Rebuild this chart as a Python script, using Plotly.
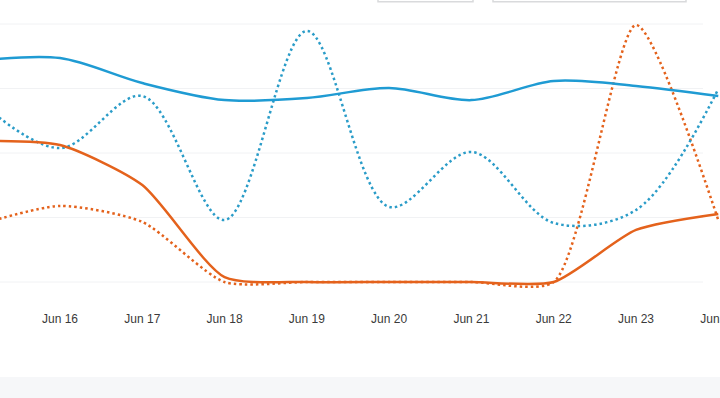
import plotly.graph_objects as go

dates = ["2024-06-15", "2024-06-16", "2024-06-17", "2024-06-18", "2024-06-19",
         "2024-06-20", "2024-06-21", "2024-06-22", "2024-06-23", "2024-06-24"]
tick_dates = dates[1:]
tick_labels = ["Jun 16", "Jun 17", "Jun 18", "Jun 19", "Jun 20", "Jun 21", "Jun 22", "Jun 23", "Jun 24"]

blue_solid = [85.7, 86.8, 77.1, 70.5, 71.3, 75.2, 70.5, 77.9, 76.0, 72.1]
blue_dotted = [70.5, 51.9, 72.1, 24.0, 97.3, 29.1, 50.4, 22.9, 27.9, 74.8]
orange_solid = [54.7, 53.1, 37.6, 1.9, 0, 0, 0, 0, 20.2, 26.4]
orange_dotted = [22.1, 29.5, 23.3, 0, 0, 0, 0, 0, 99.6, 24.0]
grid_vals = [0, 25, 50, 75, 100]

BLUE = "#1f9bd3"
BLUE_DOT = "#2a9cc8"
ORANGE = "#e4621c"

fig = go.Figure()
fig.add_trace(go.Scatter(x=dates, y=orange_dotted, mode="lines",
                         line=dict(color=ORANGE, width=2.5, dash="2.5px,3px", shape="spline", smoothing=0.65)))
fig.add_trace(go.Scatter(x=dates, y=blue_dotted, mode="lines",
                         line=dict(color=BLUE_DOT, width=2.5, dash="2.5px,3px", shape="spline", smoothing=0.95)))
fig.add_trace(go.Scatter(x=dates, y=orange_solid, mode="lines",
                         line=dict(color=ORANGE, width=2.5, shape="spline", smoothing=0.65)))
fig.add_trace(go.Scatter(x=dates, y=blue_solid, mode="lines",
                         line=dict(color=BLUE, width=2.5, shape="spline", smoothing=0.9)))

shapes = []
for v in grid_vals:
    shapes.append(dict(type="line", xref="paper", yref="y", x0=0, x1=703 / 720, y0=v, y1=v,
                       line=dict(color="#f1f2f4", width=1), layer="below"))
# UI chrome: buttons above and grey band below
shapes.append(dict(type="rect", xref="paper", yref="paper", x0=378 / 720, x1=473 / 720,
                   y0=1.068, y1=1.2, line=dict(color="#d9dadc", width=1.5), fillcolor="white"))
shapes.append(dict(type="rect", xref="paper", yref="paper", x0=493 / 720, x1=686 / 720,
                   y0=1.068, y1=1.2, line=dict(color="#d9dadc", width=1.5), fillcolor="white"))
shapes.append(dict(type="rect", xref="paper", yref="paper", x0=-0.01, x1=1.01,
                   y0=-0.45, y1=(290 - 377) / 270, line=dict(width=0), fillcolor="#f6f7f9"))

fig.update_layout(
    width=720, height=398,
    margin=dict(l=0, r=0, t=20, b=108, autoexpand=False),
    paper_bgcolor="white", plot_bgcolor="white",
    showlegend=False,
    shapes=shapes,
    font=dict(family="Liberation Sans, Arial, sans-serif", size=12, color="#3a3a3a"),
    xaxis=dict(type="date", range=["2024-06-15 06:30", "2024-06-24 00:30"],
               tickvals=tick_dates, ticktext=tick_labels, showgrid=False, zeroline=False,
               showline=False, ticks="", ticklabelstandoff=20, ticklabeloverflow="allow",
               automargin=False, fixedrange=True),
    yaxis=dict(range=[-3.1, 101.55], showgrid=False, zeroline=False, showticklabels=False,
               showline=False, ticks="", automargin=False, fixedrange=True),
)

fig.write_html("out.html", config={"displayModeBar": False},
               post_script="document.body.style.margin='0';document.body.style.overflow='hidden';")
